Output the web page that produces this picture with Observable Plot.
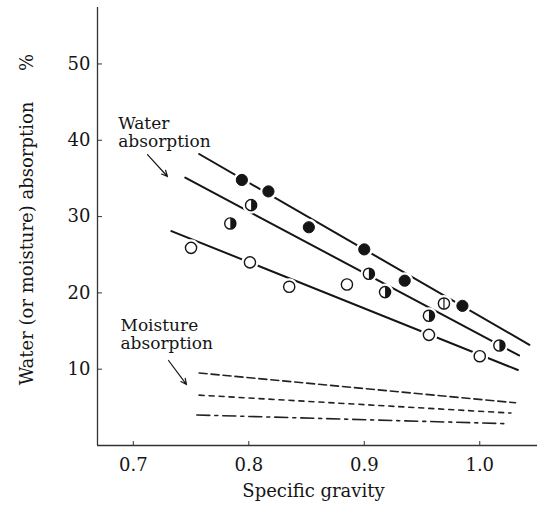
<!DOCTYPE html>
<html>
<head>
<meta charset="utf-8">
<script src="https://cdn.jsdelivr.net/npm/d3@7"></script>
<script src="https://cdn.jsdelivr.net/npm/@observablehq/plot@0.6"></script>
<style>
  html, body { margin: 0; padding: 0; background: #fff; }
  svg, svg text { font-family: "DejaVu Serif", serif !important; }
</style>
</head>
<body>
<div id="chart"></div>
<script>
// ---- data ----
const filledX = [0.794, 0.817, 0.852, 0.900, 0.935, 0.985];
const filledY = [34.8, 33.3, 28.6, 25.7, 21.6, 18.3];
const halfX = [0.784, 0.802, 0.904, 0.918, 0.956, 1.017];
const halfY = [29.1, 31.5, 22.5, 20.1, 17.0, 13.1];
const openX = [0.750, 0.801, 0.835, 0.885, 0.956, 1.000];
const openY = [25.9, 24.0, 20.8, 21.1, 14.5, 11.7];
const barredX = [0.969];
const barredY = [18.6];

// fitted water-absorption lines (end points)
const fitFilledX = [0.757, 1.043];
const fitFilledY = [38.2, 13.2];
const fitHalfX = [0.745, 1.034];
const fitHalfY = [35.1, 11.8];
const fitOpenX = [0.733, 1.033];
const fitOpenY = [28.1, 9.9];

// moisture absorption lines
const moist1X = [0.757, 1.031];
const moist1Y = [9.5, 5.6];
const moist2X = [0.757, 1.027];
const moist2Y = [6.6, 4.25];
const moist3X = [0.755, 1.025];
const moist3Y = [4.0, 2.85];

// ticks, domains and labels
const xTicks = [0.7, 0.8, 0.9, 1.0];
const yTicks = [10, 20, 30, 40, 50];
const xDomain = [0.669, 1.05];
const yDomain = [0, 57.4];
const xLabel = "Specific gravity";
const yLabel = "Water (or moisture) absorption";
const yUnit = "%";

// annotations
const noteText = ["Water\nabsorption", "Moisture\nabsorption"];
const noteX = [0.6869, 0.6889];
const noteY = [43.26, 16.79];
const arrowX1 = [0.7123, 0.7305];
const arrowY1 = [38.13, 11.14];
const arrowX2 = [0.7296, 0.7461];
const arrowY2 = [35.25, 7.99];

// ---- helpers ----
const pts = (xs, ys) => xs.map((x, i) => ({x, y: ys[i]}));
const filled = pts(filledX, filledY);
const half = pts(halfX, halfY);
const open = pts(openX, openY);
const barred = pts(barredX, barredY);
const allPts = [...filled, ...half, ...open, ...barred];
const notes = noteText.map((t, i) => ({t, x: noteX[i], y: noteY[i]}));
const arrows = arrowX1.map((x1, i) => ({x1, y1: arrowY1[i], x2: arrowX2[i], y2: arrowY2[i]}));

const rightHalf = {
  draw(ctx, size) {
    const r = Math.sqrt(size / Math.PI);
    ctx.moveTo(0, -r);
    ctx.arc(0, 0, r, -Math.PI / 2, Math.PI / 2);
    ctx.closePath();
  }
};
const vbar = {
  draw(ctx, size) {
    const r = Math.sqrt(size / Math.PI);
    ctx.moveTo(0, -r);
    ctx.lineTo(0, r);
  }
};

const ink = "#151515";
const R = 5.6;
const FF = "DejaVu Serif";

const chart = Plot.plot({
  width: 543,
  height: 510,
  marginLeft: 97,
  marginRight: 6,
  marginTop: 7,
  marginBottom: 65,
  x: {domain: xDomain},
  y: {domain: yDomain},
  style: {fontFamily: FF, fontSize: "17px", color: ink, background: "#fff"},
  marks: [
    // axis lines
    Plot.ruleX([xDomain[0]], {stroke: "#333", strokeWidth: 1.3}),
    Plot.ruleY([yDomain[0]], {stroke: "#333", strokeWidth: 1.3}),
    Plot.axisY({ticks: yTicks, tickSize: -5, tickPadding: 12, fontSize: 18, fontFamily: FF, label: null, stroke: "#333"}),
    Plot.axisX({ticks: xTicks, tickSize: -4, tickPadding: 17, fontSize: 18, fontFamily: FF, tickFormat: d3.format(".1f"), label: null, stroke: "#333"}),
    // axis labels
    Plot.text([xLabel], {frameAnchor: "bottom", dx: -4, dy: 39, lineAnchor: "top", fontSize: 18, fontFamily: FF}),
    Plot.text([yLabel], {frameAnchor: "left", rotate: -90, dx: -70, dy: 17, lineAnchor: "middle", textAnchor: "middle", fontSize: 18, fontFamily: FF}),
    Plot.text([yUnit], {frameAnchor: "top-left", rotate: -90, dx: -70, dy: 55, lineAnchor: "middle", textAnchor: "middle", fontSize: 18, fontFamily: FF}),
    // fitted water lines
    Plot.line(pts(fitFilledX, fitFilledY), {x: "x", y: "y", stroke: ink, strokeWidth: 2}),
    Plot.line(pts(fitHalfX, fitHalfY), {x: "x", y: "y", stroke: ink, strokeWidth: 2}),
    Plot.line(pts(fitOpenX, fitOpenY), {x: "x", y: "y", stroke: ink, strokeWidth: 2}),
    // moisture lines
    Plot.line(pts(moist1X, moist1Y), {x: "x", y: "y", stroke: "#222", strokeWidth: 1.6, strokeDasharray: "8,4"}),
    Plot.line(pts(moist2X, moist2Y), {x: "x", y: "y", stroke: "#222", strokeWidth: 1.6, strokeDasharray: "5,5"}),
    Plot.line(pts(moist3X, moist3Y), {x: "x", y: "y", stroke: "#222", strokeWidth: 1.6, strokeDasharray: "13,5,3,5"}),
    // white halos that break the lines around markers
    Plot.dot(allPts, {x: "x", y: "y", r: 8.5, fill: "#fff", stroke: null}),
    // markers
    Plot.dot(filled, {x: "x", y: "y", r: R, fill: ink, stroke: ink, strokeWidth: 1}),
    Plot.dot([...half, ...open, ...barred], {x: "x", y: "y", r: R, fill: "#fff", stroke: ink, strokeWidth: 1.4}),
    Plot.dot(half, {x: "x", y: "y", r: R, symbol: rightHalf, fill: ink, stroke: null}),
    Plot.dot(barred, {x: "x", y: "y", r: R, symbol: vbar, fill: "none", stroke: ink, strokeWidth: 1.2}),
    // annotations
    Plot.text(notes, {x: "x", y: "y", text: "t", textAnchor: "start", lineAnchor: "top", lineHeight: 1.1, fontSize: 17, fontFamily: FF}),
    Plot.arrow(arrows, {x1: "x1", y1: "y1", x2: "x2", y2: "y2", stroke: ink, strokeWidth: 1.2, headLength: 8, headAngle: 50})
  ]
});
document.getElementById("chart").appendChild(chart);
</script>
</body>
</html>
